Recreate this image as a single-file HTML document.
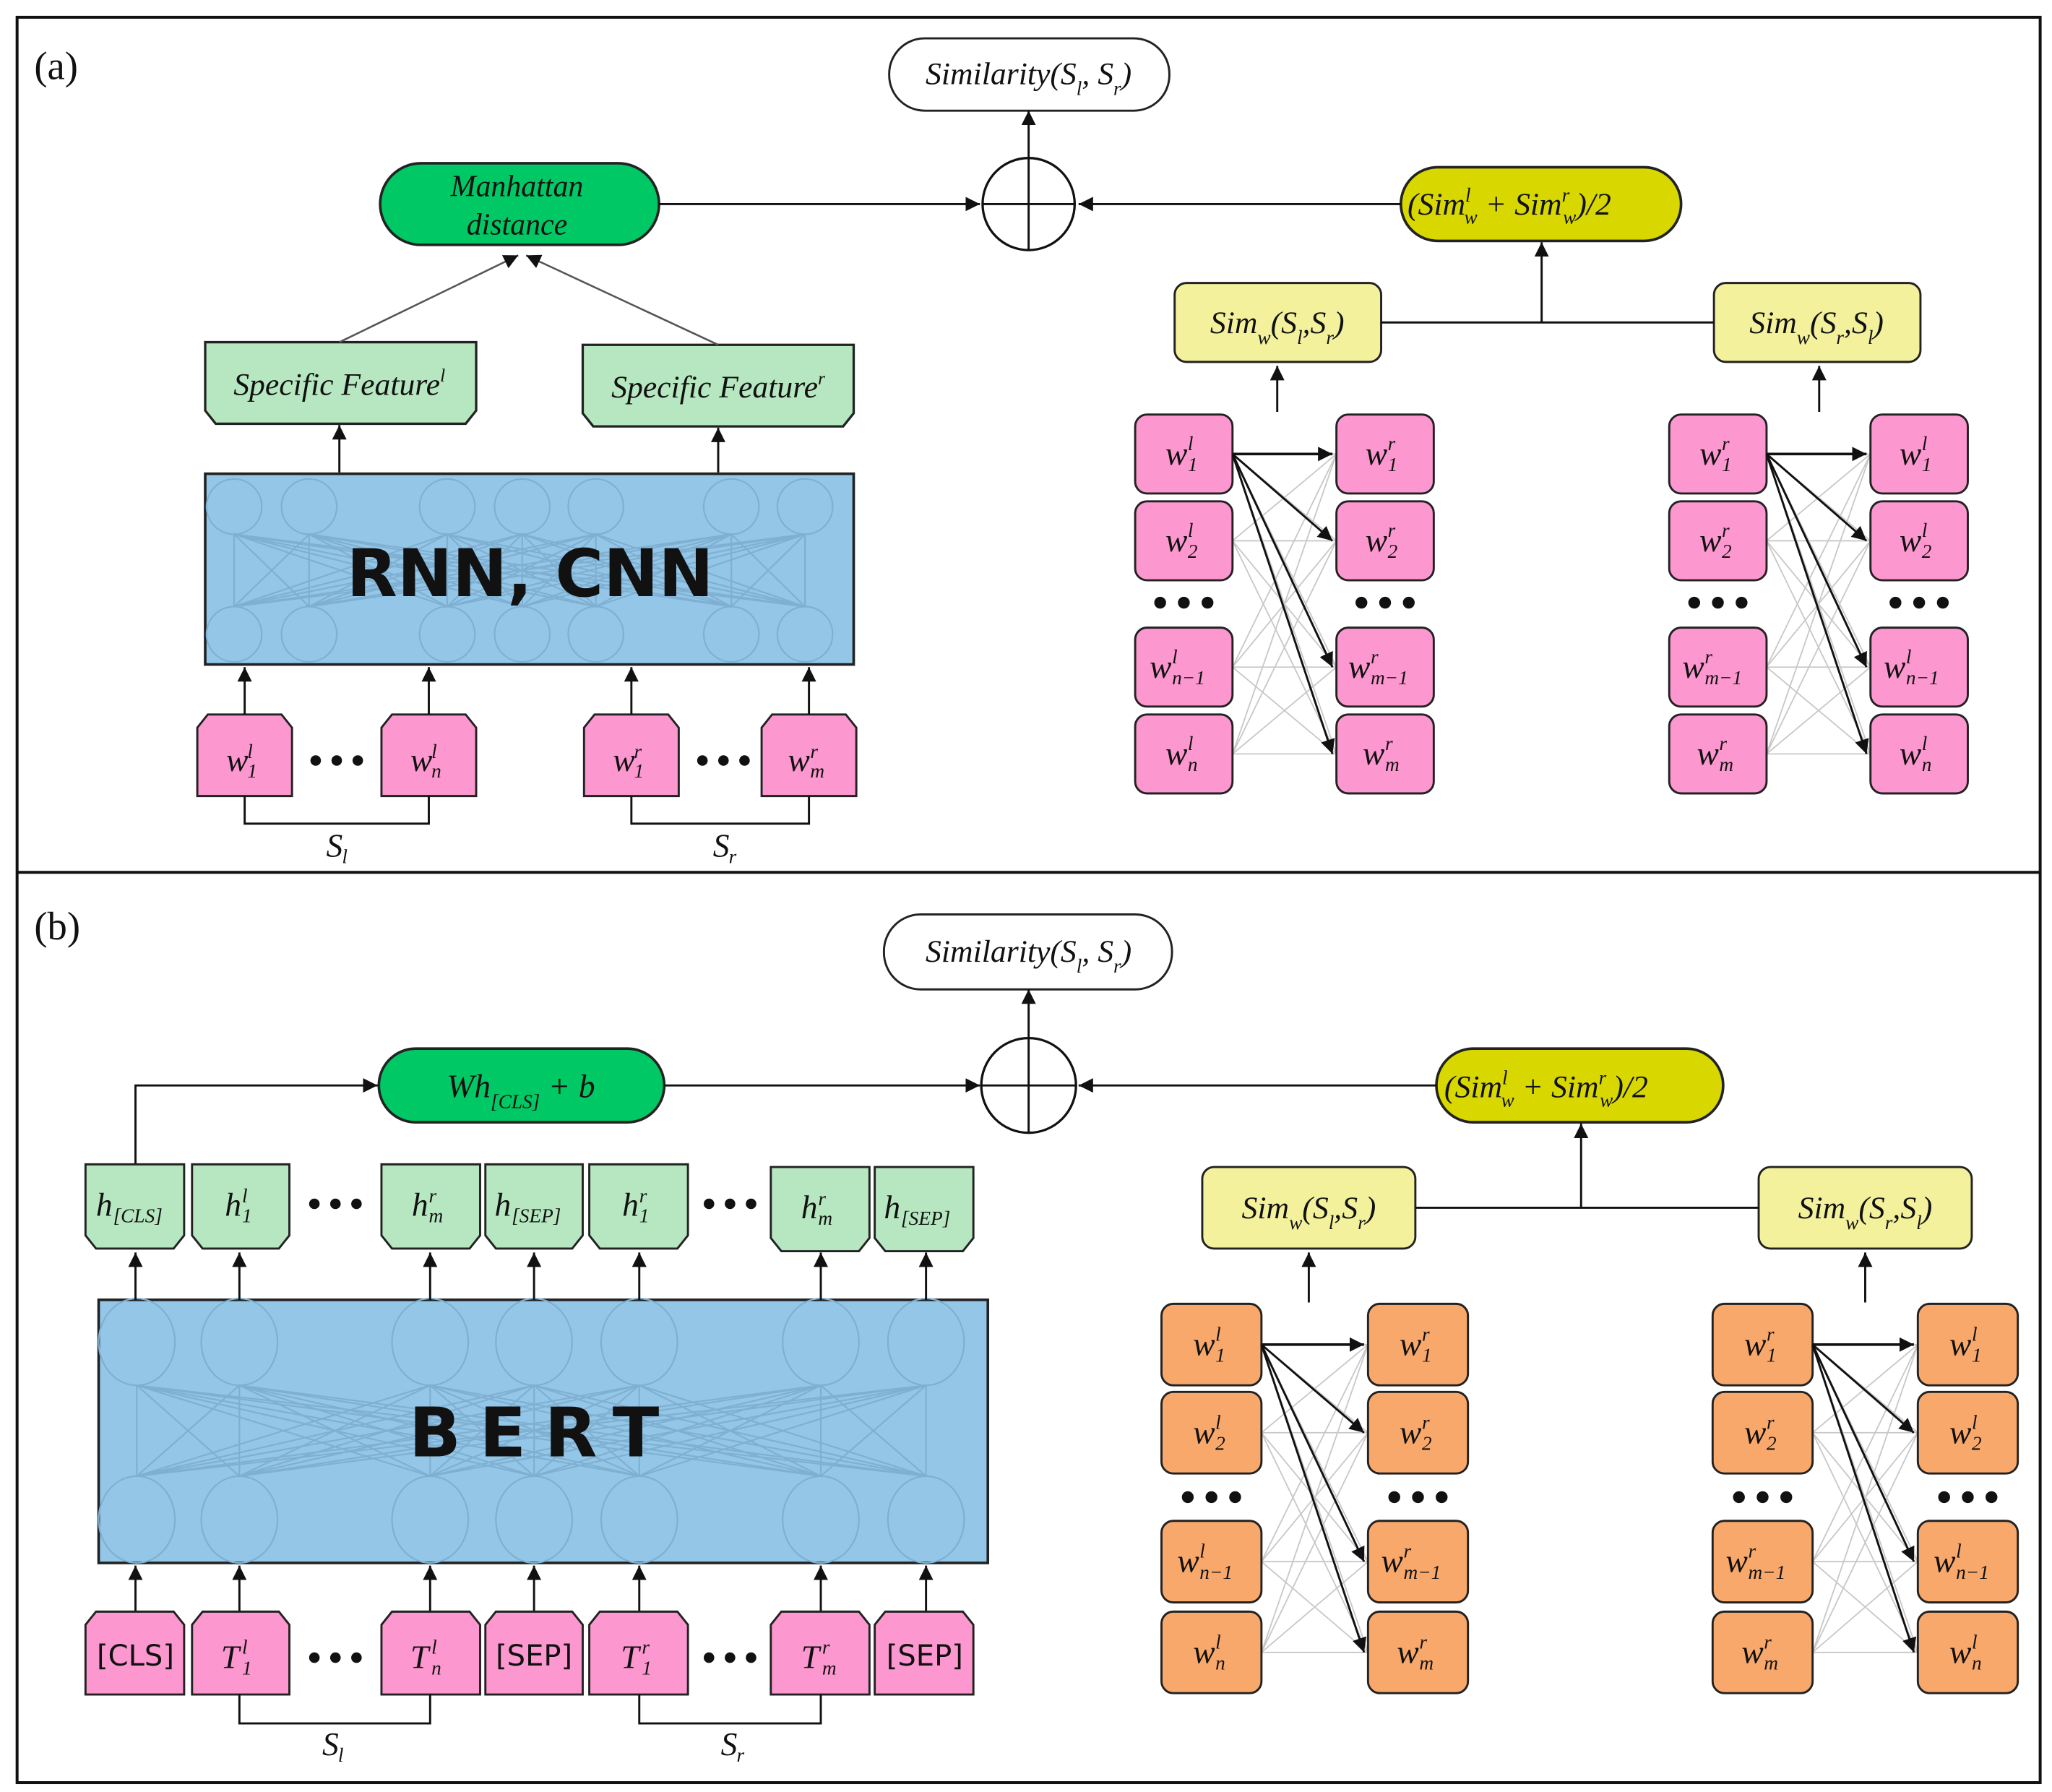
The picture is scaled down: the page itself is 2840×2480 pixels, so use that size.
<!DOCTYPE html>
<html><head><meta charset="utf-8"><style>
html,body{margin:0;padding:0;background:#fff}
svg{display:block}
text{font-family:"Liberation Serif",serif;fill:#111}
.m{font-style:italic;font-size:25px}
.s{font-style:italic;font-size:15px}
.it{font-style:italic}
.cell{stroke:#222;stroke-width:1.6}
.pk{fill:#fd97cf}
.or{fill:#f9a86b}
.ln{stroke:#111;stroke-width:1.6;fill:none}
</style></head><body>
<svg id="S" width="2840" height="2480" viewBox="0 0 1560 1362" xmlns="http://www.w3.org/2000/svg">
<defs>
<marker id="a" viewBox="0 0 10 10" refX="10" refY="5" markerWidth="11" markerHeight="11" markerUnits="userSpaceOnUse" orient="auto"><path d="M0,0L10,5L0,10z" fill="#111"/></marker>
</defs>
<rect x="13" y="13" width="1538" height="1342" fill="none" stroke="#111" stroke-width="2.2"/>
<line x1="13" y1="663" x2="1551" y2="663" stroke="#111" stroke-width="2.2"/>
<text x="26" y="60" font-size="30">(a)</text>
<text x="26" y="714" font-size="30">(b)</text>

<!-- ===== Panel A ===== -->
<rect x="676" y="29" width="213" height="55" rx="27" fill="#fff" stroke="#222" stroke-width="1.6"/>
<text x="782" y="64" text-anchor="middle" class="it" font-size="24">Similarity(S<tspan baseline-shift="sub" font-size="15">l</tspan>, S<tspan baseline-shift="sub" font-size="15">r</tspan>)</text>
<circle cx="782" cy="155" r="35" fill="#fff" stroke="#111" stroke-width="1.8"/>
<line class="ln" x1="747" y1="155" x2="817" y2="155"/><line class="ln" x1="782" y1="120" x2="782" y2="190"/>
<line class="ln" x1="782" y1="120" x2="782" y2="84" marker-end="url(#a)"/>

<rect x="289" y="124" width="212" height="62" rx="31" fill="#00c864" stroke="#222" stroke-width="2"/>
<text x="393" y="149" text-anchor="middle" class="it" font-size="23">Manhattan</text>
<text x="393" y="178" text-anchor="middle" class="it" font-size="23">distance</text>
<line class="ln" x1="501" y1="155" x2="745" y2="155" marker-end="url(#a)"/>

<rect x="1065" y="127" width="213" height="56" rx="28" fill="#d8d800" stroke="#222" stroke-width="2"/>
<text x="1070" y="163" class="it" font-size="24">(Sim<tspan font-size="15" dy="-10">l</tspan><tspan font-size="15" dx="-5" dy="17">w</tspan><tspan dy="-7"> + Sim</tspan><tspan font-size="15" dy="-10">r</tspan><tspan font-size="15" dx="-5" dy="17">w</tspan><tspan dy="-7">)/2</tspan></text>
<line class="ln" x1="1065" y1="155" x2="820" y2="155" marker-end="url(#a)"/>

<rect x="893" y="215" width="157" height="60" rx="9" fill="#f3f19c" stroke="#222" stroke-width="1.6"/>
<text x="971" y="253" text-anchor="middle" class="it" font-size="24">Sim<tspan baseline-shift="sub" font-size="15">w</tspan>(S<tspan baseline-shift="sub" font-size="15">l</tspan>,S<tspan baseline-shift="sub" font-size="15">r</tspan>)</text>
<rect x="1303" y="215" width="157" height="60" rx="9" fill="#f3f19c" stroke="#222" stroke-width="1.6"/>
<text x="1381" y="253" text-anchor="middle" class="it" font-size="24">Sim<tspan baseline-shift="sub" font-size="15">w</tspan>(S<tspan baseline-shift="sub" font-size="15">r</tspan>,S<tspan baseline-shift="sub" font-size="15">l</tspan>)</text>
<line class="ln" x1="1050" y1="245" x2="1303" y2="245"/>
<line class="ln" x1="1172" y1="245" x2="1172" y2="184" marker-end="url(#a)"/>
<line class="ln" x1="971" y1="313" x2="971" y2="278" marker-end="url(#a)"/>
<line class="ln" x1="1383" y1="313" x2="1383" y2="278" marker-end="url(#a)"/>

<!-- specific features -->
<path d="M156,260H362V312L354,322H164L156,312Z" fill="#b6e7c1" stroke="#222" stroke-width="1.8"/>
<text x="258" y="300" text-anchor="middle" class="it" font-size="24">Specific Feature<tspan font-size="14" dy="-10">l</tspan></text>
<path d="M443,262H649V314L641,324H451L443,314Z" fill="#b6e7c1" stroke="#222" stroke-width="1.8"/>
<text x="546" y="302" text-anchor="middle" class="it" font-size="24">Specific Feature<tspan font-size="14" dy="-10">r</tspan></text>
<line x1="258" y1="260" x2="394" y2="194" stroke="#555" stroke-width="1.4" marker-end="url(#a)"/>
<line x1="546" y1="262" x2="400" y2="194" stroke="#555" stroke-width="1.4" marker-end="url(#a)"/>
<line class="ln" x1="258" y1="359" x2="258" y2="323" marker-end="url(#a)"/>
<line class="ln" x1="546" y1="359" x2="546" y2="325" marker-end="url(#a)"/>

<rect x="156" y="360" width="493" height="145" fill="#94c6e8" stroke="#222" stroke-width="2"/>
<g id="netA" stroke="#7fb0d2" stroke-width="1.2" fill="none"></g>
<text x="403" y="453" text-anchor="middle" font-family="'DejaVu Sans',sans-serif" font-weight="bold" font-size="50" style="font-family:'DejaVu Sans',sans-serif">RNN, CNN</text>

<!-- inputs a -->
<g fill="#fd97cf" stroke="#222" stroke-width="1.6">
<path d="M158,543H214L222,553V605H150V553Z"/>
<path d="M298,543H354L362,553V605H290V553Z"/>
<path d="M452,543H508L516,553V605H444V553Z"/>
<path d="M587,543H643L651,553V605H579V553Z"/>
</g>
<line class="ln" x1="186" y1="543" x2="186" y2="507" marker-end="url(#a)"/>
<line class="ln" x1="326" y1="543" x2="326" y2="507" marker-end="url(#a)"/>
<line class="ln" x1="480" y1="543" x2="480" y2="507" marker-end="url(#a)"/>
<line class="ln" x1="615" y1="543" x2="615" y2="507" marker-end="url(#a)"/>
<text x="172" y="586" class="m">w</text><text x="188" y="576" class="s">l</text><text x="188" y="591" class="s">1</text>
<text x="312" y="586" class="m">w</text><text x="328" y="576" class="s">l</text><text x="328" y="591" class="s">n</text>
<text x="466" y="586" class="m">w</text><text x="482" y="576" class="s">r</text><text x="482" y="591" class="s">1</text>
<text x="599" y="586" class="m">w</text><text x="616" y="576" class="s">r</text><text x="616" y="591" class="s">m</text>
<g fill="#111"><circle cx="240" cy="578" r="4"/><circle cx="256" cy="578" r="4"/><circle cx="272" cy="578" r="4"/>
<circle cx="534" cy="578" r="4"/><circle cx="550" cy="578" r="4"/><circle cx="566" cy="578" r="4"/></g>
<path class="ln" d="M186,605V626H326V605"/><path class="ln" d="M480,605V626H615V605"/>
<text x="248" y="651" class="m" font-size="22">S</text><text x="260" y="656" class="s" font-size="13">l</text>
<text x="542" y="651" class="m" font-size="22">S</text><text x="554" y="656" class="s" font-size="13">r</text>

<!-- ===== Panel B ===== -->
<rect x="672" y="695" width="219" height="57" rx="28" fill="#fff" stroke="#222" stroke-width="1.6"/>
<text x="782" y="731" text-anchor="middle" class="it" font-size="24">Similarity(S<tspan baseline-shift="sub" font-size="15">l</tspan>, S<tspan baseline-shift="sub" font-size="15">r</tspan>)</text>
<circle cx="782" cy="825" r="36" fill="#fff" stroke="#111" stroke-width="1.8"/>
<line class="ln" x1="746" y1="825" x2="818" y2="825"/><line class="ln" x1="782" y1="789" x2="782" y2="861"/>
<line class="ln" x1="782" y1="789" x2="782" y2="752" marker-end="url(#a)"/>

<rect x="288" y="797" width="217" height="56" rx="28" fill="#00c864" stroke="#222" stroke-width="2"/>
<text x="396" y="834" text-anchor="middle" class="it" font-size="25">Wh<tspan baseline-shift="sub" font-size="15">[CLS]</tspan> + b</text>
<line class="ln" x1="505" y1="825" x2="745" y2="825" marker-end="url(#a)"/>
<path class="ln" d="M103,885V825H287" marker-end="url(#a)"/>

<rect x="1092" y="797" width="218" height="56" rx="28" fill="#d8d800" stroke="#222" stroke-width="2"/>
<text x="1098" y="834" class="it" font-size="24">(Sim<tspan font-size="15" dy="-10">l</tspan><tspan font-size="15" dx="-5" dy="17">w</tspan><tspan dy="-7"> + Sim</tspan><tspan font-size="15" dy="-10">r</tspan><tspan font-size="15" dx="-5" dy="17">w</tspan><tspan dy="-7">)/2</tspan></text>
<line class="ln" x1="1092" y1="825" x2="820" y2="825" marker-end="url(#a)"/>

<rect x="914" y="887" width="162" height="62" rx="9" fill="#f3f19c" stroke="#222" stroke-width="1.6"/>
<text x="995" y="926" text-anchor="middle" class="it" font-size="24">Sim<tspan baseline-shift="sub" font-size="15">w</tspan>(S<tspan baseline-shift="sub" font-size="15">l</tspan>,S<tspan baseline-shift="sub" font-size="15">r</tspan>)</text>
<rect x="1337" y="887" width="162" height="62" rx="9" fill="#f3f19c" stroke="#222" stroke-width="1.6"/>
<text x="1418" y="926" text-anchor="middle" class="it" font-size="24">Sim<tspan baseline-shift="sub" font-size="15">w</tspan>(S<tspan baseline-shift="sub" font-size="15">r</tspan>,S<tspan baseline-shift="sub" font-size="15">l</tspan>)</text>
<line class="ln" x1="1076" y1="918" x2="1337" y2="918"/>
<line class="ln" x1="1202" y1="918" x2="1202" y2="854" marker-end="url(#a)"/>
<line class="ln" x1="995" y1="990" x2="995" y2="952" marker-end="url(#a)"/>
<line class="ln" x1="1418" y1="990" x2="1418" y2="952" marker-end="url(#a)"/>

<!-- h boxes -->
<g fill="#b6e7c1" stroke="#222" stroke-width="1.6">
<path d="M65,885H140V939L132,949H73L65,939Z"/>
<path d="M146,885H220V939L212,949H154L146,939Z"/>
<path d="M290,885H365V939L357,949H298L290,939Z"/>
<path d="M369,885H443V939L435,949H377L369,939Z"/>
<path d="M448,885H523V939L515,949H456L448,939Z"/>
<path d="M586,887H661V941L653,951H594L586,941Z"/>
<path d="M665,887H740V941L732,951H673L665,941Z"/>
</g>
<text x="73" y="924" class="m">h</text><text x="86" y="929" class="s" font-size="14">[CLS]</text>
<text x="171" y="924" class="m">h</text><text x="184" y="914" class="s">l</text><text x="184" y="929" class="s">1</text>
<text x="313" y="924" class="m">h</text><text x="326" y="914" class="s">r</text><text x="326" y="929" class="s">m</text>
<text x="376" y="924" class="m">h</text><text x="389" y="929" class="s" font-size="14">[SEP]</text>
<text x="473" y="924" class="m">h</text><text x="486" y="914" class="s">r</text><text x="486" y="929" class="s">1</text>
<text x="609" y="926" class="m">h</text><text x="622" y="916" class="s">r</text><text x="622" y="931" class="s">m</text>
<text x="672" y="926" class="m">h</text><text x="685" y="931" class="s" font-size="14">[SEP]</text>
<g fill="#111"><circle cx="239" cy="915" r="4"/><circle cx="255" cy="915" r="4"/><circle cx="271" cy="915" r="4"/>
<circle cx="539" cy="915" r="4"/><circle cx="555" cy="915" r="4"/><circle cx="571" cy="915" r="4"/>
<circle cx="239" cy="1260" r="4"/><circle cx="255" cy="1260" r="4"/><circle cx="271" cy="1260" r="4"/>
<circle cx="539" cy="1260" r="4"/><circle cx="555" cy="1260" r="4"/><circle cx="571" cy="1260" r="4"/></g>

<rect x="75" y="988" width="676" height="200" fill="#94c6e8" stroke="#222" stroke-width="2"/>
<g id="netB" stroke="#7fb0d2" stroke-width="1.2" fill="none"></g>
<text x="413" y="1107" text-anchor="middle" font-weight="bold" font-size="52" style="font-family:'DejaVu Sans',sans-serif" letter-spacing="14">BERT</text>

<g id="arrB"></g>
<g fill="#fd97cf" stroke="#222" stroke-width="1.6">
<path d="M73,1225H132L140,1235V1288H65V1235Z"/>
<path d="M154,1225H212L220,1235V1288H146V1235Z"/>
<path d="M298,1225H357L365,1235V1288H290V1235Z"/>
<path d="M377,1225H435L443,1235V1288H369V1235Z"/>
<path d="M456,1225H515L523,1235V1288H448V1235Z"/>
<path d="M594,1225H653L661,1235V1288H586V1235Z"/>
<path d="M673,1225H732L740,1235V1288H665V1235Z"/>
</g>
<text x="103" y="1266" text-anchor="middle" font-size="24" style="font-family:'DejaVu Sans',sans-serif;font-size:22px">[CLS]</text>
<text x="168" y="1268" class="m">T</text><text x="184" y="1257" class="s">l</text><text x="184" y="1273" class="s">1</text>
<text x="312" y="1268" class="m">T</text><text x="328" y="1257" class="s">l</text><text x="328" y="1273" class="s">n</text>
<text x="406" y="1266" text-anchor="middle" style="font-family:'DejaVu Sans',sans-serif;font-size:22px">[SEP]</text>
<text x="472" y="1268" class="m">T</text><text x="488" y="1257" class="s">r</text><text x="488" y="1273" class="s">1</text>
<text x="609" y="1268" class="m">T</text><text x="625" y="1257" class="s">r</text><text x="625" y="1273" class="s">m</text>
<text x="703" y="1266" text-anchor="middle" style="font-family:'DejaVu Sans',sans-serif;font-size:22px">[SEP]</text>
<path class="ln" d="M182,1288V1310H327V1288"/><path class="ln" d="M486,1288V1310H624V1288"/>
<text x="245" y="1334" class="m" font-size="22">S</text><text x="257" y="1339" class="s" font-size="13">l</text>
<text x="548" y="1334" class="m" font-size="22">S</text><text x="560" y="1339" class="s" font-size="13">r</text>

<!-- grids -->
<g id="grids"></g>
<g id="glabels">
<!-- a-left col1 (cx 900) -->
<text x="886" y="353" class="m">w</text><text x="903" y="342" class="s">l</text><text x="903" y="358" class="s">1</text>
<text x="886" y="419" class="m">w</text><text x="903" y="408" class="s">l</text><text x="903" y="424" class="s">2</text>
<text x="874" y="515" class="m">w</text><text x="891" y="504" class="s">l</text><text x="891" y="520" class="s">n−1</text>
<text x="886" y="581" class="m">w</text><text x="903" y="570" class="s">l</text><text x="903" y="586" class="s">n</text>
<!-- a-left col2 (cx 1052) -->
<text x="1038" y="353" class="m">w</text><text x="1055" y="342" class="s">r</text><text x="1055" y="358" class="s">1</text>
<text x="1038" y="419" class="m">w</text><text x="1055" y="408" class="s">r</text><text x="1055" y="424" class="s">2</text>
<text x="1025" y="515" class="m">w</text><text x="1042" y="504" class="s">r</text><text x="1042" y="520" class="s">m−1</text>
<text x="1036" y="581" class="m">w</text><text x="1053" y="570" class="s">r</text><text x="1053" y="586" class="s">m</text>
<!-- a-right col1 (cx 1306) -->
<text x="1292" y="353" class="m">w</text><text x="1309" y="342" class="s">r</text><text x="1309" y="358" class="s">1</text>
<text x="1292" y="419" class="m">w</text><text x="1309" y="408" class="s">r</text><text x="1309" y="424" class="s">2</text>
<text x="1279" y="515" class="m">w</text><text x="1296" y="504" class="s">r</text><text x="1296" y="520" class="s">m−1</text>
<text x="1290" y="581" class="m">w</text><text x="1307" y="570" class="s">r</text><text x="1307" y="586" class="s">m</text>
<!-- a-right col2 (cx 1458) -->
<text x="1444" y="353" class="m">w</text><text x="1461" y="342" class="s">l</text><text x="1461" y="358" class="s">1</text>
<text x="1444" y="419" class="m">w</text><text x="1461" y="408" class="s">l</text><text x="1461" y="424" class="s">2</text>
<text x="1432" y="515" class="m">w</text><text x="1449" y="504" class="s">l</text><text x="1449" y="520" class="s">n−1</text>
<text x="1444" y="581" class="m">w</text><text x="1461" y="570" class="s">l</text><text x="1461" y="586" class="s">n</text>
<!-- b-left col1 (cx 921) -->
<text x="907" y="1030" class="m">w</text><text x="924" y="1019" class="s">l</text><text x="924" y="1035" class="s">1</text>
<text x="907" y="1097" class="m">w</text><text x="924" y="1086" class="s">l</text><text x="924" y="1102" class="s">2</text>
<text x="895" y="1195" class="m">w</text><text x="912" y="1184" class="s">l</text><text x="912" y="1200" class="s">n−1</text>
<text x="907" y="1264" class="m">w</text><text x="924" y="1253" class="s">l</text><text x="924" y="1269" class="s">n</text>
<!-- b-left col2 (cx 1078) -->
<text x="1064" y="1030" class="m">w</text><text x="1081" y="1019" class="s">r</text><text x="1081" y="1035" class="s">1</text>
<text x="1064" y="1097" class="m">w</text><text x="1081" y="1086" class="s">r</text><text x="1081" y="1102" class="s">2</text>
<text x="1050" y="1195" class="m">w</text><text x="1067" y="1184" class="s">r</text><text x="1067" y="1200" class="s">m−1</text>
<text x="1062" y="1264" class="m">w</text><text x="1079" y="1253" class="s">r</text><text x="1079" y="1269" class="s">m</text>
<!-- b-right col1 (cx 1340) -->
<text x="1326" y="1030" class="m">w</text><text x="1343" y="1019" class="s">r</text><text x="1343" y="1035" class="s">1</text>
<text x="1326" y="1097" class="m">w</text><text x="1343" y="1086" class="s">r</text><text x="1343" y="1102" class="s">2</text>
<text x="1312" y="1195" class="m">w</text><text x="1329" y="1184" class="s">r</text><text x="1329" y="1200" class="s">m−1</text>
<text x="1324" y="1264" class="m">w</text><text x="1341" y="1253" class="s">r</text><text x="1341" y="1269" class="s">m</text>
<!-- b-right col2 (cx 1496) -->
<text x="1482" y="1030" class="m">w</text><text x="1499" y="1019" class="s">l</text><text x="1499" y="1035" class="s">1</text>
<text x="1482" y="1097" class="m">w</text><text x="1499" y="1086" class="s">l</text><text x="1499" y="1102" class="s">2</text>
<text x="1470" y="1195" class="m">w</text><text x="1487" y="1184" class="s">l</text><text x="1487" y="1200" class="s">n−1</text>
<text x="1482" y="1264" class="m">w</text><text x="1499" y="1253" class="s">l</text><text x="1499" y="1269" class="s">n</text>
</g>
</svg>
<script>
(function(){
var NS="http://www.w3.org/2000/svg";
function el(p,t,a){var e=document.createElementNS(NS,t);for(var k in a)e.setAttribute(k,a[k]);p.appendChild(e);return e;}
// nets
function net(g,xs,ty,by,rx,ry){
 xs.forEach(function(x){el(g,"ellipse",{cx:x,cy:ty,rx:rx,ry:ry});el(g,"ellipse",{cx:x,cy:by,rx:rx,ry:ry});});
 xs.forEach(function(a){xs.forEach(function(b){el(g,"line",{x1:a,y1:ty+ry,x2:b,y2:by-ry});});});
}
net(document.getElementById("netA"),[178,235,340,397,453,556,612],385,482,21,21);
net(document.getElementById("netB"),[104,182,327,406,486,624,704],1020,1155,29,33);
// BERT arrows
var ab=document.getElementById("arrB");
[103,182,327,406,486,624,704].forEach(function(x){
 el(ab,"line",{x1:x,y1:1225,x2:x,y2:1190,"class":"ln","marker-end":"url(#a)"});
 el(ab,"line",{x1:x,y1:988,x2:x,y2:952,"class":"ln","marker-end":"url(#a)"});
});
// grids
var G=document.getElementById("grids");
function grid(c1,c2,w,rows,h,cls,dy){
 var rc=rows.map(function(r){return r+h/2;});
 rc.forEach(function(a){rc.forEach(function(b){el(G,"line",{x1:c1+w,y1:a,x2:c2,y2:b,stroke:"#c8c8c8","stroke-width":1});});});
 rows.forEach(function(r){
  el(G,"rect",{x:c1,y:r,width:w,height:h,rx:9,"class":"cell "+cls});
  el(G,"rect",{x:c2,y:r,width:w,height:h,rx:9,"class":"cell "+cls});
 });
 rc.forEach(function(b,i){el(G,"line",{x1:c1+w,y1:rc[0],x2:c2-3,y2:b,stroke:"#111","stroke-width":i==0?2:1.6,"marker-end":"url(#a)"});});
 [c1+w/2,c2+w/2].forEach(function(cx){[-18,0,18].forEach(function(d){el(G,"circle",{cx:cx+d,cy:dy,r:4.5,fill:"#111"});});});
}
grid(863,1016,74,[315,381,477,543],60,"pk",458);
grid(1269,1422,74,[315,381,477,543],60,"pk",458);
grid(883,1040,76,[991,1058,1156,1225],62,"or",1138);
grid(1302,1458,76,[991,1058,1156,1225],62,"or",1138);
})();
</script>
</body></html>
